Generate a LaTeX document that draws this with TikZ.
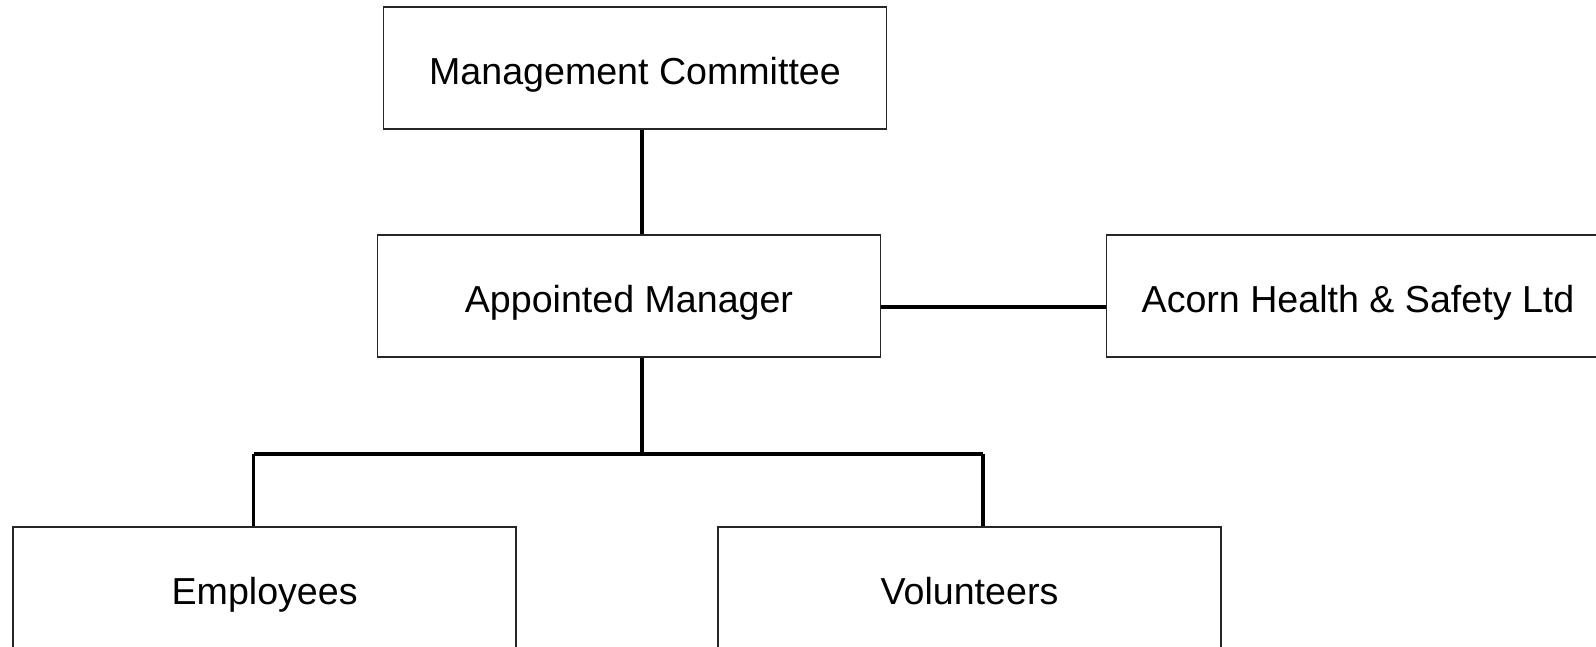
\documentclass[tikz,border=0pt]{standalone}
\usepackage{fontspec}
\setmainfont{Liberation Sans}
\usetikzlibrary{positioning,calc}

\tikzset{
  unit/.style={draw=black!85, line width=1.6pt, rectangle, minimum width=503pt,
    minimum height=122pt, inner sep=0pt, text height=33pt, text depth=0pt,
    font=\fontsize{37.6}{45}\selectfont},
  link/.style={draw=black, line width=3.3pt}
}

\begin{document}
\begin{tikzpicture}[x=1pt, y=-1pt]
  \useasboundingbox (0,0) rectangle (1596,647);
  \clip (0,0) rectangle (1596,647);

  % top of the chart
  \node[unit] (mc) at (635,68) {Management Committee};
  \node[unit] (am) at (629,296) {Appointed Manager};
  \node[unit] (acorn) at (1358,296) {Acorn Health \& Safety Ltd};

  % staff row, runs off the bottom edge
  \node[unit] (emp) at (264.6,588) {Employees};
  \node[unit] (vol) at (969.5,588) {Volunteers};

  % branch points under the manager
  \coordinate (jm) at (642,454);
  \coordinate (jl) at (253.5,454);
  \coordinate (jr) at (983,454);

  % Connectors
  \draw[link] ([xshift=7pt]mc.south) -- ([xshift=7pt]mc.south |- am.north);
  \draw[link] ([yshift=-11pt]am.east) -- ([yshift=-11pt]acorn.west);
  \draw[link] (jm |- am.south) -- (jm);
  \draw[link] (jl) -- (jr);
  \draw[link] (jl) -- (jl |- emp.north);
  \draw[link] (jr) -- (jr |- vol.north);
\end{tikzpicture}
\end{document}
